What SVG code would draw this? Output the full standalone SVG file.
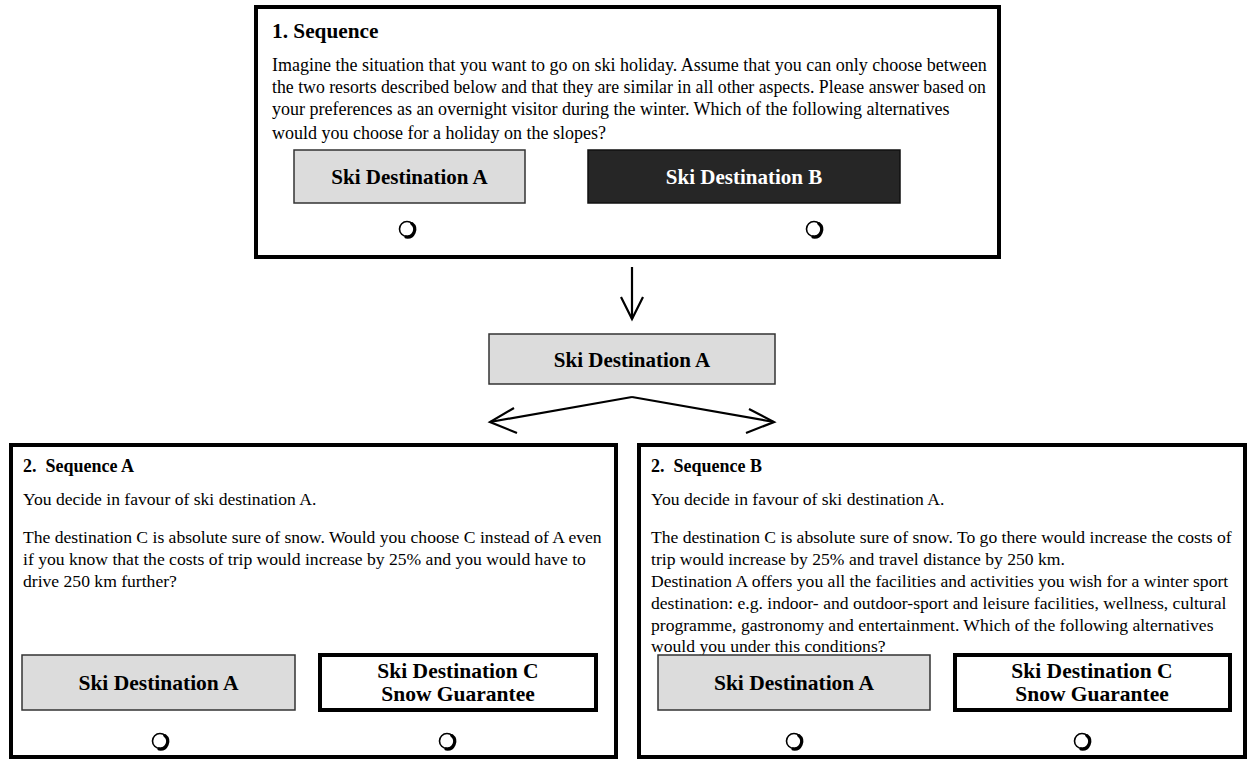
<svg xmlns="http://www.w3.org/2000/svg" width="1247" height="760" viewBox="0 0 1247 760">
<defs>
<style>
.frame{fill:#fff;stroke:#000;stroke-width:4}
.grey{fill:#dcdcdc;stroke:#333;stroke-width:1.5}
.dark{fill:#262626;stroke:#111;stroke-width:1.5}
.white{fill:#fff;stroke:#000;stroke-width:4}
.title1{font-family:"Liberation Serif",serif;font-weight:bold;font-size:21.3px;fill:#000}
.title{font-family:"Liberation Serif",serif;font-weight:bold;font-size:18px;fill:#000}
.body1{font-family:"Liberation Serif",serif;font-size:18px;fill:#000}
.body{font-family:"Liberation Serif",serif;font-size:17.6px;fill:#000}
.lbl{font-family:"Liberation Serif",serif;font-weight:bold;font-size:21px;fill:#000;text-anchor:middle}
.lblw{font-family:"Liberation Serif",serif;font-weight:bold;font-size:21px;fill:#fff;text-anchor:middle}
.lbl2{font-family:"Liberation Serif",serif;font-weight:bold;font-size:21.5px;fill:#000;text-anchor:middle}
.conn{fill:none;stroke:#000;stroke-width:2.2;stroke-linejoin:miter}
.radio{fill:#fff;stroke:#000;stroke-width:1.6}
.shadow{fill:none;stroke:#000;stroke-width:3.2;stroke-linecap:round}
</style>
<g id="radio">
<circle class="radio" cx="0" cy="0" r="7.5"/>
<path class="shadow" d="M 4.8 -5.4 A 7.5 7.5 0 0 1 -1 7.9"/>
</g>
</defs>
<rect width="1247" height="760" fill="#fff"/>

<g id="seq1">
<rect class="frame" x="256" y="7" width="743" height="250"/>
<text class="title1" x="272" y="37.5">1. Sequence</text>
<text class="body1" x="272" y="71">Imagine the situation that you want to go on ski holiday. Assume that you can only choose between</text>
<text class="body1" x="272" y="93" textLength="714" lengthAdjust="spacingAndGlyphs">the two resorts described below and that they are similar in all other aspects. Please answer based on</text>
<text class="body1" x="272" y="115">your preferences as an overnight visitor during the winter. Which of the following alternatives</text>
<text class="body1" x="272" y="139">would you choose for a holiday on the slopes?</text>
</g>
<g id="seq1-optA">
<rect class="grey" x="294" y="150" width="231" height="53"/>
<text class="lbl" x="409.5" y="184">Ski Destination A</text>
<use href="#radio" x="407" y="229"/>
</g>
<g id="seq1-optB">
<rect class="dark" x="588" y="150" width="312" height="53"/>
<text class="lblw" x="744" y="184">Ski Destination B</text>
<use href="#radio" x="814" y="229"/>
</g>

<g id="choice">
<rect class="grey" x="489" y="334" width="286" height="50"/>
<text class="lbl" x="632" y="367">Ski Destination A</text>
</g>

<g id="seqA">
<rect class="frame" x="11" y="445" width="605" height="312"/>
<text class="title" x="23" y="472" xml:space="preserve">2.  Sequence A</text>
<text class="body" x="23" y="505">You decide in favour of ski destination A.</text>
<text class="body" x="23" y="543">The destination C is absolute sure of snow. Would you choose C instead of A even</text>
<text class="body" x="23" y="565">if you know that the costs of trip would increase by 25% and you would have to</text>
<text class="body" x="23" y="587">drive 250 km further?</text>
</g>
<g id="seqA-optA">
<rect class="grey" x="22" y="655" width="273" height="55"/>
<text class="lbl2" x="158.5" y="690">Ski Destination A</text>
<use href="#radio" x="160" y="741"/>
</g>
<g id="seqA-optC">
<rect class="white" x="320" y="655" width="276" height="55"/>
<text class="lbl2" x="458" y="678">Ski Destination C</text>
<text class="lbl2" x="458" y="701">Snow Guarantee</text>
<use href="#radio" x="447" y="741"/>
</g>

<g id="seqB">
<rect class="frame" x="639" y="445" width="606" height="312"/>
<text class="title" x="651" y="472" xml:space="preserve">2.  Sequence B</text>
<text class="body" x="651" y="505">You decide in favour of ski destination A.</text>
<text class="body" x="651" y="543">The destination C is absolute sure of snow. To go there would increase the costs of</text>
<text class="body" x="651" y="565">trip would increase by 25% and travel distance by 250 km.</text>
<text class="body" x="651" y="587">Destination A offers you all the facilities and activities you wish for a winter sport</text>
<text class="body" x="651" y="609">destination: e.g. indoor- and outdoor-sport and leisure facilities, wellness, cultural</text>
<text class="body" x="651" y="631">programme, gastronomy and entertainment. Which of the following alternatives</text>
<text class="body" x="651" y="652">would you under this conditions?</text>
</g>
<g id="seqB-optA">
<rect class="grey" x="658" y="655" width="272" height="55"/>
<text class="lbl2" x="794" y="690">Ski Destination A</text>
<use href="#radio" x="794" y="741"/>
</g>
<g id="seqB-optC">
<rect class="white" x="955" y="655" width="275" height="55"/>
<text class="lbl2" x="1092" y="678">Ski Destination C</text>
<text class="lbl2" x="1092" y="701">Snow Guarantee</text>
<use href="#radio" x="1082" y="741"/>
</g>

<g id="connectors">
<path class="conn" d="M 632 267 L 632 319"/>
<path class="conn" d="M 621 297 L 632 319 L 643 297"/>
<path class="conn" d="M 632 397 L 490 422"/>
<path class="conn" d="M 514 408 L 490 422 L 517 433"/>
<path class="conn" d="M 632 397 L 774 422"/>
<path class="conn" d="M 749 409 L 774 422 L 746 433"/>
</g>
</svg>
